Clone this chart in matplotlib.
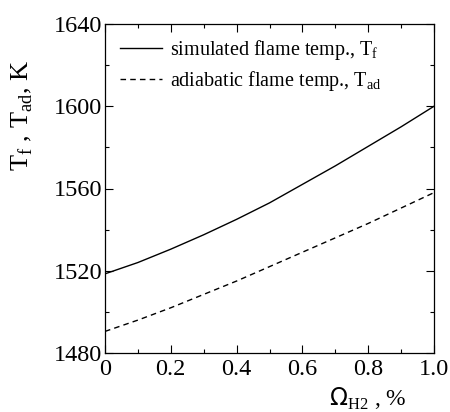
import matplotlib
matplotlib.use("Agg")
import matplotlib.pyplot as plt
from matplotlib.ticker import MultipleLocator

omega = [0.0, 0.1, 0.2, 0.3, 0.4, 0.5, 0.6, 0.7, 0.8, 0.9, 1.0]
t_flame = [1518.5, 1524, 1530.5, 1537.5, 1545, 1553, 1562, 1571, 1580.5, 1590, 1600]
t_adiab = [1490.5, 1496, 1502, 1508.5, 1515, 1522, 1529, 1536, 1543, 1550.5, 1558]
xtick_labels = ["0", "0.2", "0.4", "0.6", "0.8", "1.0"]

serif = "Liberation Serif"

fig = plt.figure(figsize=(4.5, 4.12), dpi=100)
ax = fig.add_axes([105 / 450, 1 - 353 / 412, 329 / 450, 329 / 412])

ax.plot(omega, t_flame, color="black", lw=1.0, label="simulated flame temp., T$_\\mathregular{f}$")
ax.plot(omega, t_adiab, color="black", lw=1.0, dashes=(4, 3), label="adiabatic flame temp., T$_\\mathregular{ad}$")

ax.set_xlim(0, 1.0)
ax.set_ylim(1480, 1640)
ax.xaxis.set_minor_locator(MultipleLocator(0.1))
ax.yaxis.set_major_locator(MultipleLocator(40))
ax.yaxis.set_minor_locator(MultipleLocator(20))
ax.set_xticks([0, 0.2, 0.4, 0.6, 0.8, 1.0])
ax.set_xticklabels(xtick_labels)
ax.tick_params(which="both", direction="in", top=True, right=True, width=0.8)
ax.tick_params(which="major", length=6, labelsize=17.5)
ax.tick_params(axis="y", which="major", pad=2)
ax.tick_params(axis="x", which="major", pad=4)
ax.tick_params(which="minor", length=3)
for lab in ax.get_xticklabels() + ax.get_yticklabels():
    lab.set_fontfamily(serif)
for s in ax.spines.values():
    s.set_linewidth(0.9)

leg = ax.legend(loc="upper left", bbox_to_anchor=(-0.01, 1.012), frameon=False,
                prop={"family": serif, "size": 14.5}, handlelength=2.1,
                handletextpad=0.4, labelspacing=0.35)

fig.text(22 / 450, 1 - 115 / 412, "T$_\\mathregular{f}$ , T$_\\mathregular{ad}$, K", rotation=90,
         ha="center", va="center", fontsize=19, family=serif)
fig.text(368 / 450, 1 - 386 / 412, "$\\Omega_\\mathregular{H2}$ , %", ha="center", va="top",
         fontsize=17, family=serif)

fig.savefig("out.png", dpi=100)
